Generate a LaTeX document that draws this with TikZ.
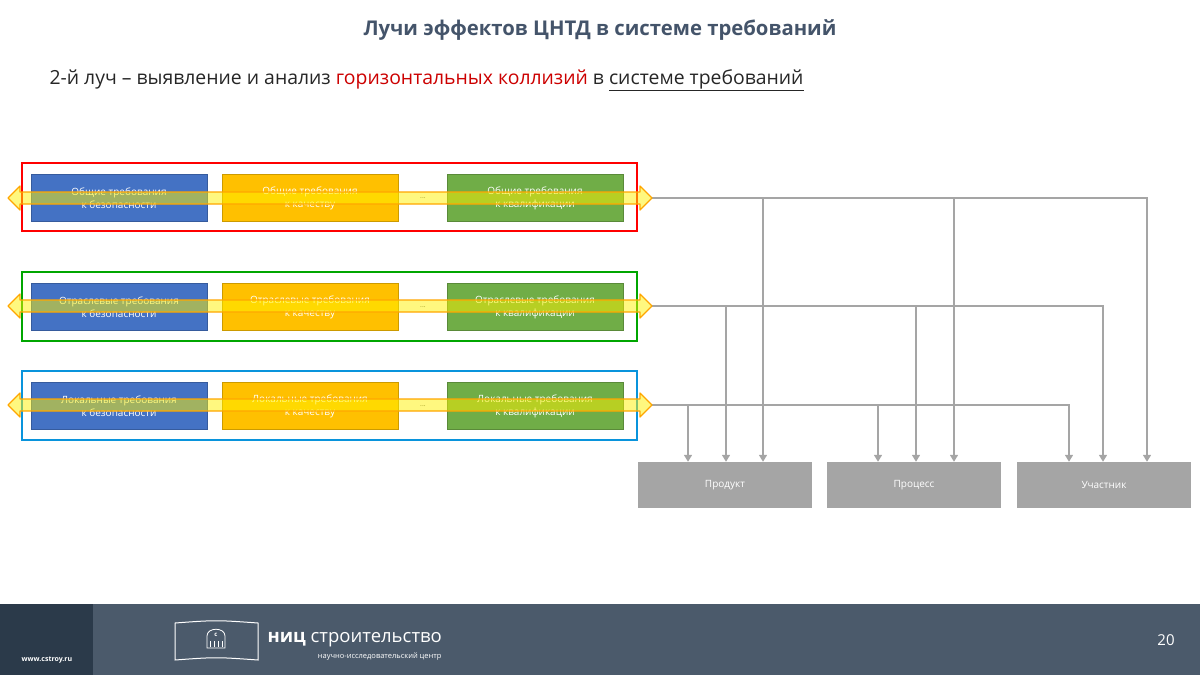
\documentclass[tikz,border=0pt]{standalone}
\usepackage{fontspec}
\setmainfont{Open Sans}
\usepackage{tikz}
\usetikzlibrary{positioning,calc,arrows.meta}
\definecolor{titlec}{HTML}{44546A}
\definecolor{reqblue}{HTML}{4472C4}
\definecolor{reqyellow}{HTML}{FFC000}
\definecolor{reqgreen}{HTML}{70AD47}
\definecolor{linegray}{HTML}{A5A5A5}
\definecolor{footc}{HTML}{4B5A6B}
\definecolor{footd}{HTML}{2B3A4A}
\begin{document}
\begin{tikzpicture}
[   x=1pt,y=-1pt,
    req/.style={fill=#1,draw=#1!80!black,line width=0.4pt,minimum width=176pt,minimum height=47pt,inner sep=0pt,text=white,font=\fontsize{10}{13}\selectfont,align=center},
    target/.style={fill=linegray,minimum width=174pt,minimum height=46pt,inner sep=0pt,text=white,font=\fontsize{10}{12}\selectfont},
    frame/.style={draw=#1,line width=1.2pt},
]
\tikzset{gray arrow/.style={draw=linegray,line width=1.6pt,-{Triangle[length=7pt,width=8pt]}}}
\tikzset{ray/.style={fill=yellow,fill opacity=0.5,draw=orange!70!yellow,draw opacity=1,line width=1.3pt,line join=round}}
\useasboundingbox (0,0) rectangle (1200,675);
% title
\node[font=\bfseries\fontsize{20.3}{24}\selectfont,text=titlec] (title) at (600,30) {Лучи эффектов ЦНТД в системе требований};
\node[anchor=west,font=\fontsize{19.4}{23}\selectfont,text=black!85] (sub) at (46,80) {2-й луч -- выявление и анализ \textcolor{red!80!black}{горизонтальных коллизий} в \underline{системе требований}};
% frames
\draw[frame=red] (22,163) rectangle (637,231);
\draw[frame=green!65!black] (22,272) rectangle (637,341);
\draw[frame=cyan!80!blue] (22,371) rectangle (637,440);
% requirement boxes
\foreach \r/\y/\w in {1/198/Общие,2/307/Отраслевые,3/406/Локальные}
{
	\node[req=reqblue] (b-\r) at (119,\y) {\w{} требования\\к безопасности};
	\node[req=reqyellow] (q-\r) at (310,\y) {\w{} требования\\к качеству};
	\node[req=reqgreen] (k-\r) at (535,\y) {\w{} требования\\к квалификации};
	\node[font=\scriptsize,text=black!70] (d-\r) at (423,\y) {...};
}
% bottom targets
\node[target] (prod) at (725,485) {Продукт};
\node[target] (proc) at (914,485) {Процесс};
\node[target] (memb) at (1104,485) {Участник};
% gray links
\coordinate (e-1) at (652,198);
\coordinate (e-2) at (652,306);
\coordinate (e-3) at (652,405);
\draw[gray arrow] (e-1) -| (memb.north -| 1147,0);
\draw[gray arrow] (e-2) -| (memb.north -| 1103,0);
\draw[gray arrow] (e-3) -| (memb.north -| 1069,0);
\draw[gray arrow] (763,198) -- (prod.north -| 763,0);
\draw[gray arrow] (954,198) -- (proc.north -| 954,0);
\draw[gray arrow] (726,306) -- (prod.north -| 726,0);
\draw[gray arrow] (916,306) -- (proc.north -| 916,0);
\draw[gray arrow] (688,405) -- (prod.north -| 688,0);
\draw[gray arrow] (878,405) -- (proc.north -| 878,0);
% rays
\foreach \r/\y in {1/198,2/306,3/405}
	\draw[ray] (8,\y) -- (20,\y-12) -- (20,\y-6) -- (640,\y-6) -- (640,\y-12) -- (652,\y)
		-- (640,\y+12) -- (640,\y+6) -- (20,\y+6) -- (20,\y+12) -- cycle;
% footer
\fill[footc] (0,604) rectangle (1200,675);
\fill[footd] (0,604) rectangle (93,675);
\node[text=white,font=\bfseries\fontsize{7}{8}\selectfont] (url) at (47,660) {www.cstroy.ru};
\draw[white,line width=1pt] (175,623) .. controls (216,620) .. (258,623) -- (258,660) .. controls (216,657) .. (175,660) -- cycle;
\draw[white,line width=0.8pt] (207,648) -- (207,636) .. controls (207,627) and (225,627) .. (225,636) -- (225,648) -- cycle;
\foreach \i in {210,214,218,222} \draw[white,line width=0.6pt] (\i,641) -- (\i,647);
\node[white,font=\bfseries\fontsize{6}{6}\selectfont,inner sep=0pt] (logo) at (216,635) {с};
\node[anchor=west,text=white,font=\fontsize{18.5}{20}\selectfont] (brand) at (264,640) {\textbf{ниц} строительство};
\node[anchor=east,text=white,font=\fontsize{7.5}{8}\selectfont] (brand2) at (445,657) {научно-исследовательский центр};
\node[text=white,font=\fontsize{15}{17}\selectfont] (page) at (1166,640) {20};
\end{tikzpicture}
\end{document}
